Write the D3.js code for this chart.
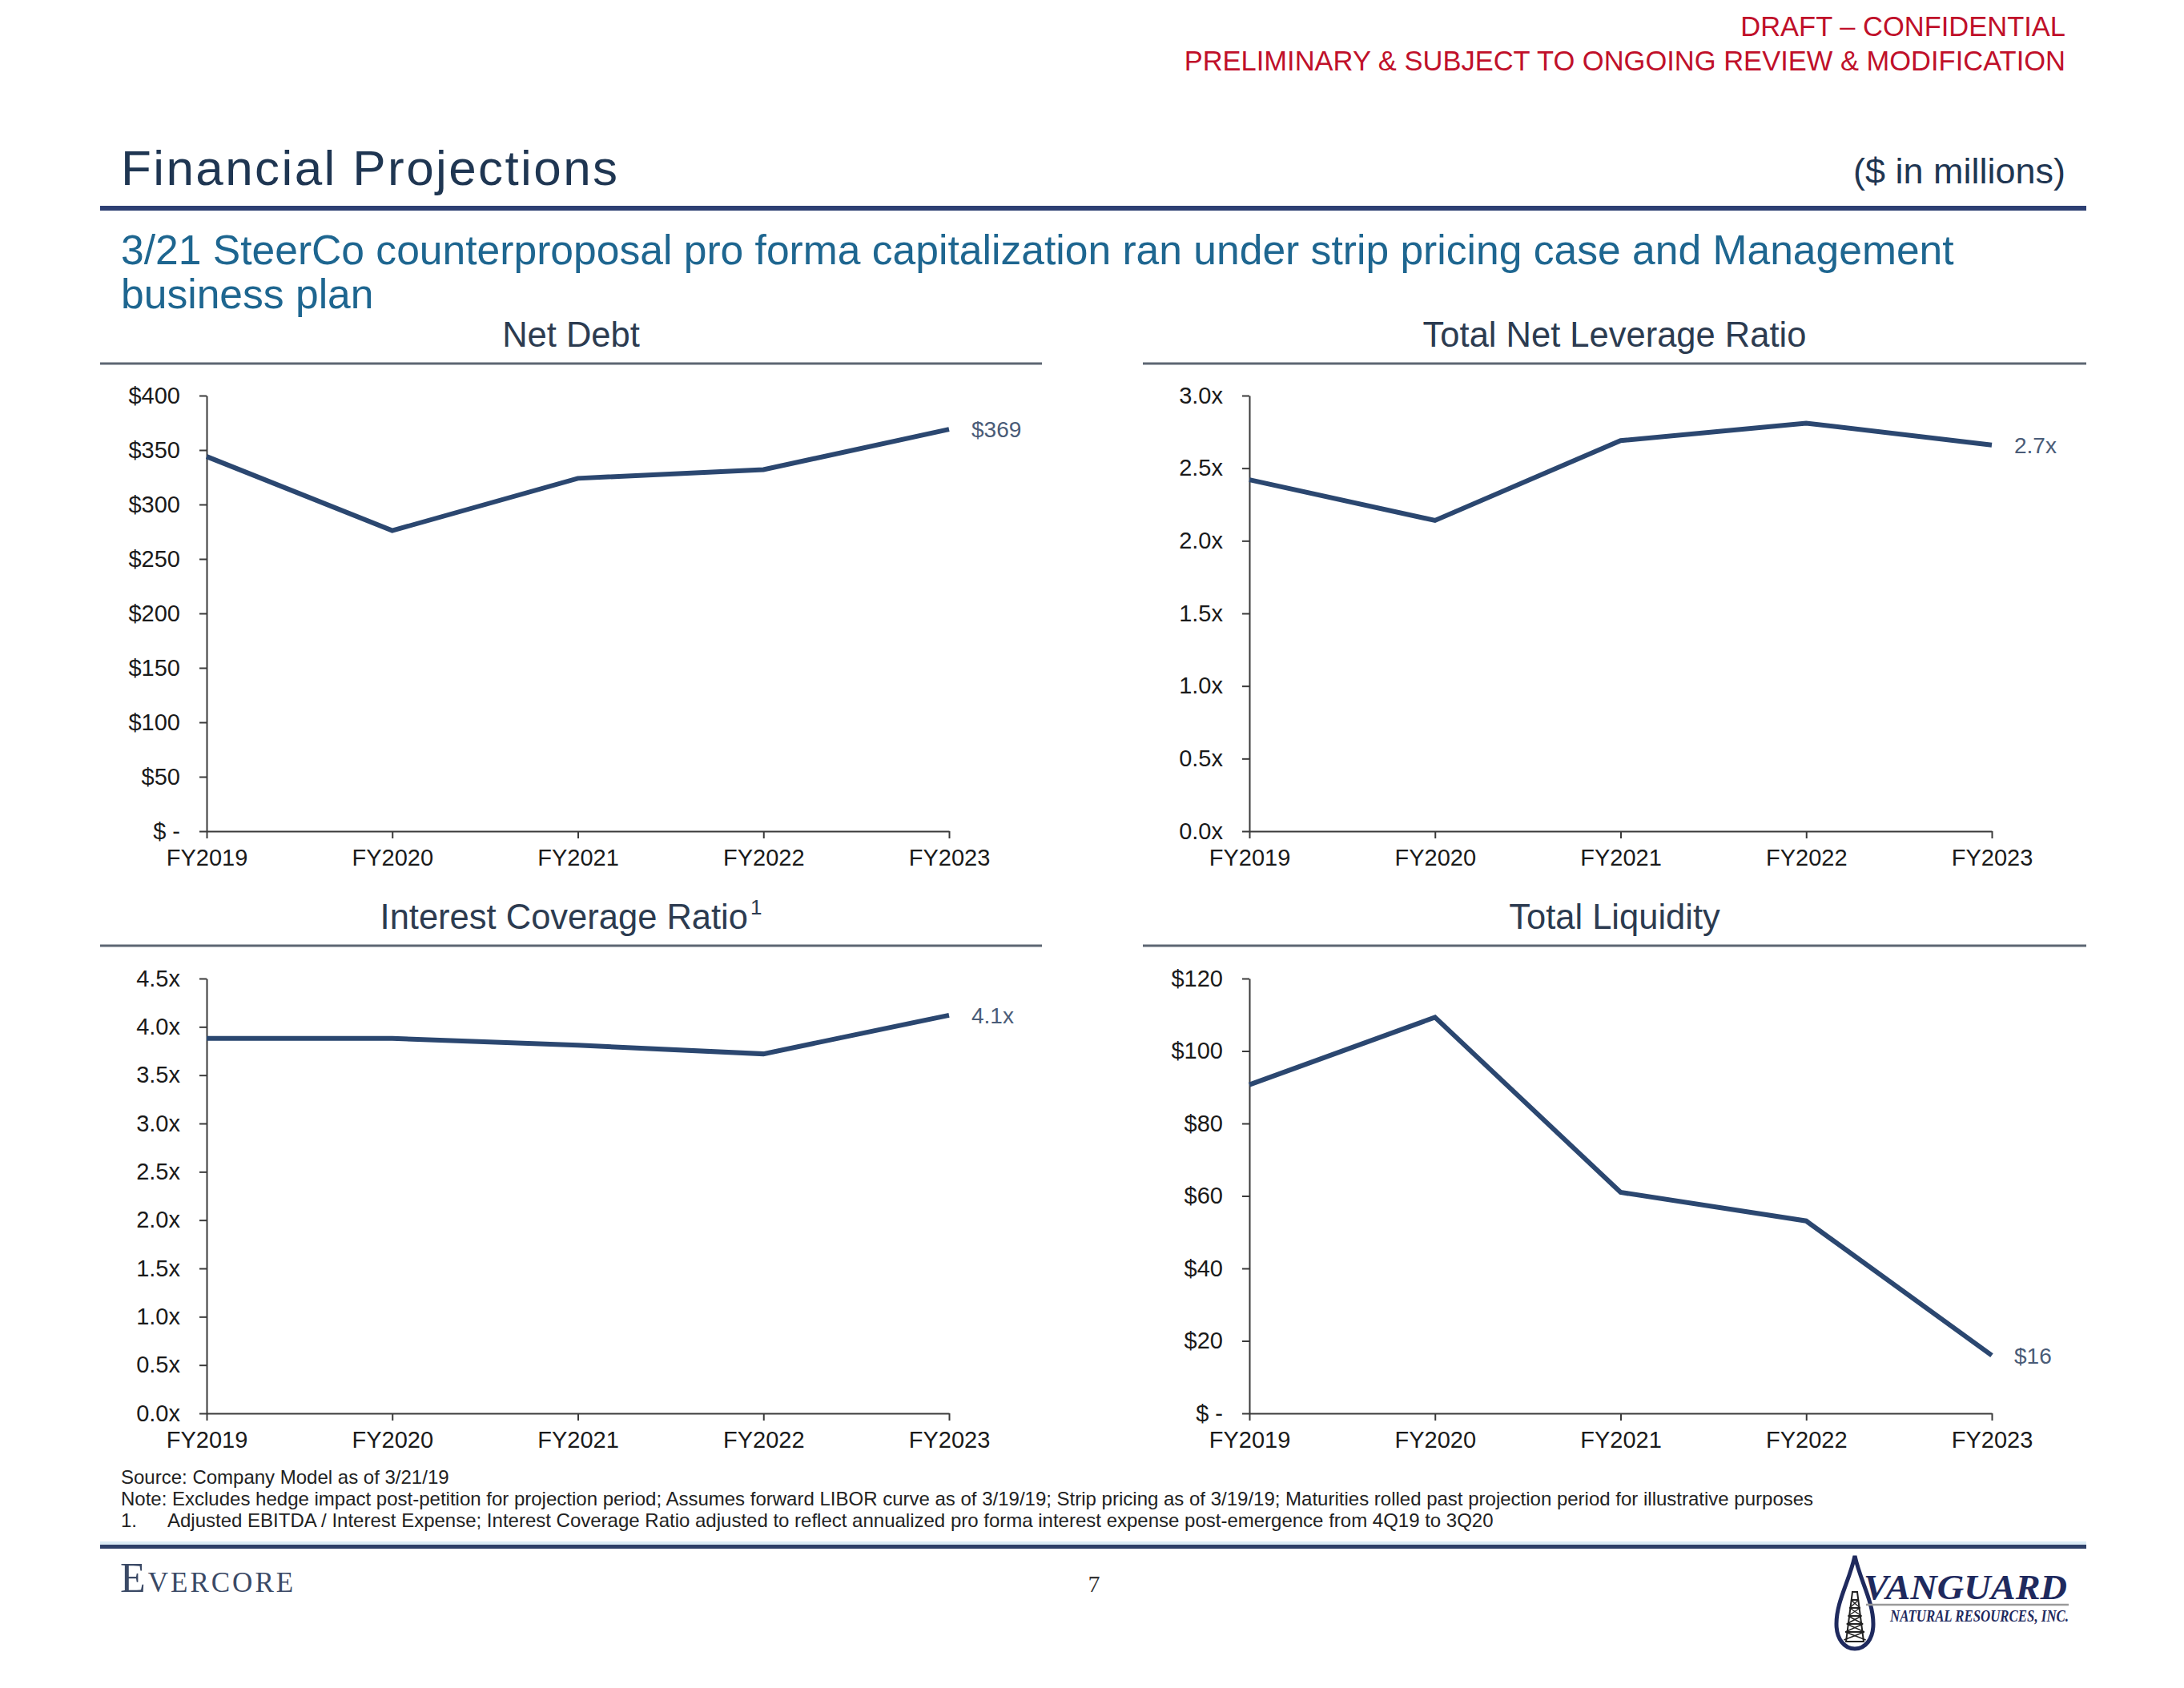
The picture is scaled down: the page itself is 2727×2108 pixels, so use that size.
<!DOCTYPE html>
<html><head><meta charset="utf-8">
<script src="https://cdn.jsdelivr.net/npm/d3@7"></script>
<style>
body{margin:0;background:#fff}
svg{display:block}
text{font-family:"Liberation Sans",Arial,sans-serif}
</style>
</head><body>
<svg id="c" width="2727" height="2108"></svg>
<script>
// ---------- data ----------
const years = ["FY2019", "FY2020", "FY2021", "FY2022", "FY2023"];
const netDebt = [344, 276, 324, 332, 369];
const totalNetLeverage = [2.42, 2.14, 2.69, 2.81, 2.66];
const interestCoverage = [3.88, 3.88, 3.81, 3.72, 4.12];
const totalLiquidity = [90.7, 109.3, 61.0, 53.1, 16.0];

const netDebtTicks = [0, 50, 100, 150, 200, 250, 300, 350, 400];
const netDebtTickLabels = ["$ -", "$50", "$100", "$150", "$200", "$250", "$300", "$350", "$400"];
const leverageTicks = [0, 0.5, 1.0, 1.5, 2.0, 2.5, 3.0];
const leverageTickLabels = ["0.0x", "0.5x", "1.0x", "1.5x", "2.0x", "2.5x", "3.0x"];
const coverageTicks = [0, 0.5, 1.0, 1.5, 2.0, 2.5, 3.0, 3.5, 4.0, 4.5];
const coverageTickLabels = ["0.0x", "0.5x", "1.0x", "1.5x", "2.0x", "2.5x", "3.0x", "3.5x", "4.0x", "4.5x"];
const liquidityTicks = [0, 20, 40, 60, 80, 100, 120];
const liquidityTickLabels = ["$ -", "$20", "$40", "$60", "$80", "$100", "$120"];

const chartTitles = ["Net Debt", "Total Net Leverage Ratio", "Interest Coverage Ratio", "Total Liquidity"];
const endLabels = ["$369", "2.7x", "4.1x", "$16"];

// ---------- drawing ----------
const svg = d3.select("#c");
svg.append("rect").attr("width", 2727).attr("height", 2108).attr("fill", "#fff");

const NAVY = "#2b4770";
const AXIS = "#3a3a3a";

// header
svg.append("text").attr("x", 2579).attr("y", 45).attr("text-anchor", "end")
  .attr("font-size", 34.5).attr("fill", "#c0102a").text("DRAFT \u2013 CONFIDENTIAL");
svg.append("text").attr("x", 2579).attr("y", 88).attr("text-anchor", "end")
  .attr("font-size", 34.5).attr("fill", "#c0102a").text("PRELIMINARY & SUBJECT TO ONGOING REVIEW & MODIFICATION");

svg.append("text").attr("x", 151).attr("y", 231).attr("font-size", 62).attr("letter-spacing", 2.4)
  .attr("fill", "#1f3652").text("Financial Projections");
svg.append("text").attr("x", 2579).attr("y", 229).attr("text-anchor", "end")
  .attr("font-size", 45).attr("fill", "#1f3652").text("($ in millions)");
svg.append("rect").attr("x", 125).attr("y", 257).attr("width", 2480).attr("height", 6).attr("fill", "#2d3f73");

svg.append("text").attr("x", 151).attr("y", 330).attr("font-size", 51.6).attr("fill", "#1e6690")
  .text("3/21 SteerCo counterproposal pro forma capitalization ran under strip pricing case and Management");
svg.append("text").attr("x", 151).attr("y", 385).attr("font-size", 51.6).attr("fill", "#1e6690")
  .text("business plan");

// panels
const panels = [
  {values: netDebt, ticks: netDebtTicks, labels: netDebtTickLabels, max: 400,
   x0: 258, top: 494, bottom: 1038, ruleY: 454, ruleX: [125, 1301], titleY: 433},
  {values: totalNetLeverage, ticks: leverageTicks, labels: leverageTickLabels, max: 3.0,
   x0: 1560, top: 494, bottom: 1038, ruleY: 454, ruleX: [1427, 2605], titleY: 433},
  {values: interestCoverage, ticks: coverageTicks, labels: coverageTickLabels, max: 4.5,
   x0: 258, top: 1222, bottom: 1765, ruleY: 1181, ruleX: [125, 1301], titleY: 1160, sup: "1"},
  {values: totalLiquidity, ticks: liquidityTicks, labels: liquidityTickLabels, max: 120,
   x0: 1560, top: 1222, bottom: 1765, ruleY: 1181, ruleX: [1427, 2605], titleY: 1160}
];

panels.forEach((p, i) => {
  const g = svg.append("g");
  const x = d3.scalePoint().domain(years).range([p.x0, p.x0 + 927]);
  const y = d3.scaleLinear().domain([0, p.max]).range([p.bottom, p.top]);

  // title + rule
  const t = g.append("text").attr("x", (p.ruleX[0] + p.ruleX[1]) / 2).attr("y", p.titleY)
    .attr("text-anchor", "middle").attr("font-size", 43.5).attr("fill", "#2c3b50").text(chartTitles[i]);
  if (p.sup) t.append("tspan").attr("font-size", 26).attr("dy", -18).attr("dx", 3).text(p.sup);
  g.append("line").attr("x1", p.ruleX[0]).attr("x2", p.ruleX[1]).attr("y1", p.ruleY).attr("y2", p.ruleY)
    .attr("stroke", "#5d6673").attr("stroke-width", 3);

  // y axis
  const ya = g.append("g").attr("transform", `translate(${p.x0},0)`)
    .call(d3.axisLeft(y).tickValues(p.ticks).tickFormat((d, k) => p.labels[k])
      .tickSize(9).tickSizeOuter(0).tickPadding(24));
  // x axis
  const xa = g.append("g").attr("transform", `translate(0,${p.bottom})`)
    .call(d3.axisBottom(x).tickSize(9).tickSizeOuter(0).tickPadding(13));
  [ya, xa].forEach(a => {
    a.select(".domain").attr("stroke", AXIS).attr("stroke-width", 2);
    a.selectAll(".tick line").attr("stroke", AXIS).attr("stroke-width", 2);
    a.selectAll(".tick text").attr("font-size", 29).attr("fill", "#1a1a1a")
      .attr("font-family", "'Liberation Sans', Arial, sans-serif");
  });

  // line
  const line = d3.line().x((d, k) => x(years[k])).y(d => y(d));
  g.append("path").datum(p.values).attr("d", line).attr("fill", "none")
    .attr("stroke", NAVY).attr("stroke-width", 6).attr("stroke-linejoin", "miter");

  // end label
  const last = p.values.length - 1;
  g.append("text").attr("x", x(years[last]) + 28).attr("y", y(p.values[last])).attr("dy", "0.36em")
    .attr("font-size", 28).attr("fill", "#4a5c78").text(endLabels[i]);
});

// footnotes
const fn = svg.append("g").attr("font-size", 24).attr("fill", "#222");
fn.append("text").attr("x", 151).attr("y", 1853).text("Source: Company Model as of 3/21/19");
fn.append("text").attr("x", 151).attr("y", 1880)
  .text("Note: Excludes hedge impact post-petition for projection period; Assumes forward LIBOR curve as of 3/19/19; Strip pricing as of 3/19/19; Maturities rolled past projection period for illustrative purposes");
fn.append("text").attr("x", 151).attr("y", 1907).text("1.");
fn.append("text").attr("x", 209).attr("y", 1907)
  .text("Adjusted EBITDA / Interest Expense; Interest Coverage Ratio adjusted to reflect annualized pro forma interest expense post-emergence from 4Q19 to 3Q20");

// bottom rule
svg.append("rect").attr("x", 125).attr("y", 1925).attr("width", 2480).attr("height", 4).attr("fill", "#dcecf6");
svg.append("rect").attr("x", 125).attr("y", 1929).attr("width", 2480).attr("height", 5).attr("fill", "#2d3f68");

// Evercore wordmark
const ev = svg.append("text").attr("x", 150).attr("y", 1988).attr("fill", "#3b4a66")
  .style("font-family", "'Liberation Serif', 'DejaVu Serif', serif").attr("letter-spacing", 3);
ev.append("tspan").attr("font-size", 52).text("E");
ev.append("tspan").attr("font-size", 35).text("VERCORE");

// page number
svg.append("text").attr("x", 1366).attr("y", 1988).attr("text-anchor", "middle").attr("font-size", 30)
  .attr("fill", "#333").style("font-family", "'Liberation Serif', serif").text("7");

// Vanguard logo
const lg = svg.append("g");
lg.append("path")
  .attr("d", "M2316,1943 C2309,1975 2293,2000 2293,2028 C2293,2047 2303,2059 2316,2059 C2329,2059 2339,2047 2339,2028 C2339,2000 2323,1975 2316,1943 Z")
  .attr("fill", "#fff").attr("stroke", "#1f2a5e").attr("stroke-width", 5);
// derrick
lg.append("path").attr("d", "M2313,1988 L2319,1988 L2327,2050 L2305,2050 Z")
  .attr("fill", "none").attr("stroke", "#222").attr("stroke-width", 2);
[1998, 2008, 2018, 2028, 2038].forEach(yy => {
  const hw = 3 + (yy - 1988) * 11 / 62;
  lg.append("line").attr("x1", 2316 - hw).attr("x2", 2316 + hw).attr("y1", yy).attr("y2", yy)
    .attr("stroke", "#222").attr("stroke-width", 2);
  lg.append("line").attr("x1", 2316 - hw).attr("x2", 2316 + hw + 1.8).attr("y1", yy).attr("y2", yy + 10)
    .attr("stroke", "#222").attr("stroke-width", 1.5);
  lg.append("line").attr("x1", 2316 + hw).attr("x2", 2316 - hw - 1.8).attr("y1", yy).attr("y2", yy + 10)
    .attr("stroke", "#222").attr("stroke-width", 1.5);
});
lg.append("text").attr("x", 2327).attr("y", 1997).attr("font-size", 44).attr("font-weight", "bold")
  .attr("font-style", "italic").attr("fill", "#1f2a5e").style("font-family", "'Liberation Serif', serif")
  .attr("textLength", 254).attr("lengthAdjust", "spacingAndGlyphs").text("VANGUARD");
lg.append("line").attr("x1", 2330).attr("x2", 2583).attr("y1", 2004).attr("y2", 2004)
  .attr("stroke", "#9a9a9a").attr("stroke-width", 2.5);
lg.append("text").attr("x", 2360).attr("y", 2025).attr("font-size", 21).attr("font-weight", "bold")
  .attr("font-style", "italic").attr("fill", "#1f2a5e").style("font-family", "'Liberation Serif', serif")
  .attr("textLength", 223).attr("lengthAdjust", "spacingAndGlyphs").text("NATURAL RESOURCES, INC.");
</script>
</body></html>
